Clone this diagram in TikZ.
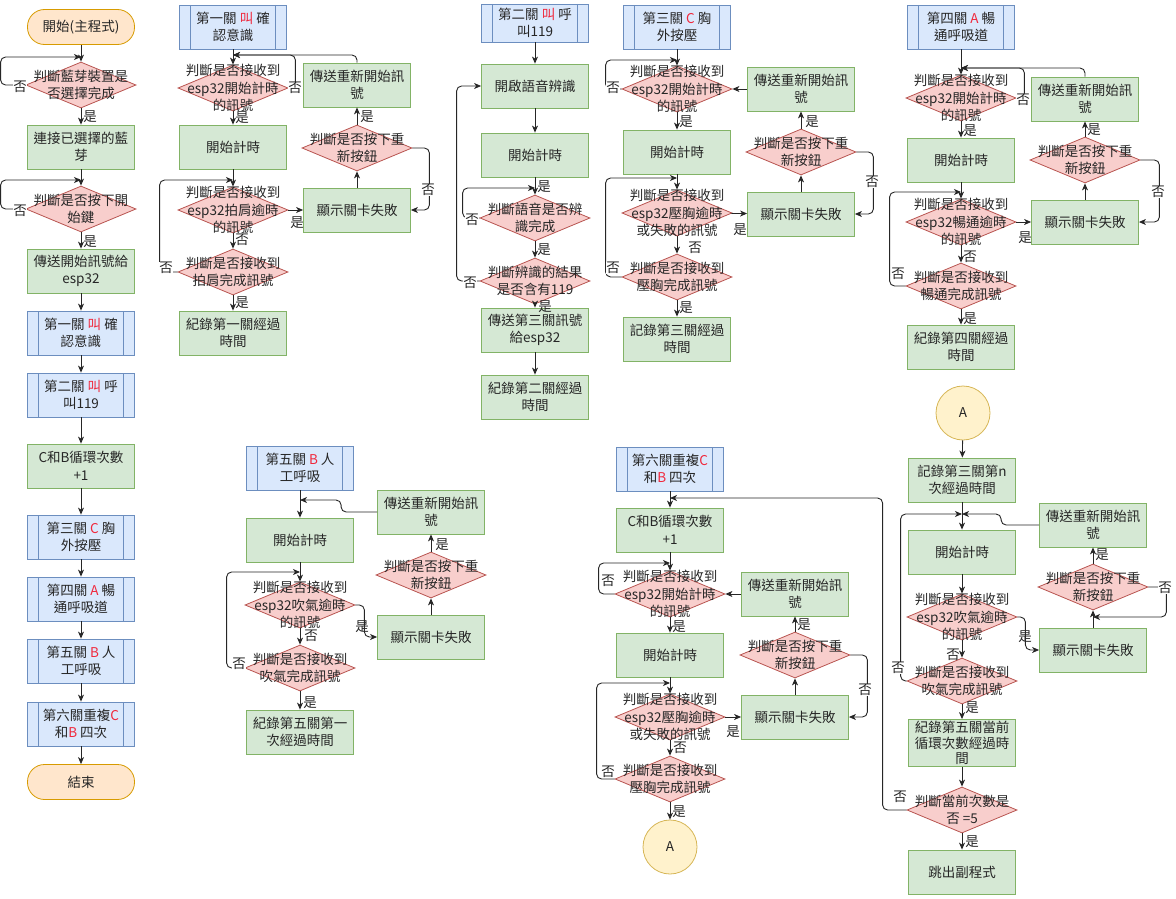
\documentclass[tikz,border=0pt]{standalone}
\usepackage{fontspec}
\setmainfont{Noto Sans CJK TC}
\usetikzlibrary{shapes.geometric, arrows.meta}

\definecolor{decfill}{HTML}{F8CECC}
\definecolor{decline}{HTML}{B85450}
\definecolor{boxfill}{HTML}{D5E8D4}
\definecolor{boxline}{HTML}{82B366}
\definecolor{subfill}{HTML}{DAE8FC}
\definecolor{subline}{HTML}{6C8EBF}
\definecolor{endfill}{HTML}{FFE6CC}
\definecolor{endline}{HTML}{D79B00}
\definecolor{confill}{HTML}{FFF2CC}
\definecolor{conline}{HTML}{D6B656}
\definecolor{hot}{HTML}{F0283C}

\newcommand{\hot}[1]{\textcolor{hot}{#1}}

\tikzset{
  txt/.style={font=\fontsize{13.5}{17.5}\selectfont, text=black!85, align=center},
  box/.style={txt, rectangle, draw=boxline, fill=boxfill, line width=0.8, minimum width=107, minimum height=44, inner sep=0},
  subproc/.style={txt, rectangle, draw=subline, fill=subfill, line width=0.8, minimum width=107, minimum height=44, inner sep=0,
    path picture={\draw[subline, line width=0.8]
      ([xshift=11]path picture bounding box.north west) -- ([xshift=11]path picture bounding box.south west)
      ([xshift=-11]path picture bounding box.north east) -- ([xshift=-11]path picture bounding box.south east);}},
  decision/.style={diamond, draw=decline, fill=decfill, line width=0.8, minimum width=110, minimum height=46, inner sep=0},
  dtext/.style={txt, inner sep=0},
  term/.style={txt, rectangle, rounded corners=17, draw=endline, fill=endfill, line width=0.8, minimum width=107, minimum height=35},
  conn/.style={txt, circle, draw=conline, fill=confill, line width=0.8, minimum size=54, inner sep=0},
  yn/.style={font=\fontsize{13.5}{15}\selectfont, text=black!85, inner sep=0.5},
  ynw/.style={yn, fill=white},
  back/.style={->, rounded corners=5},
}

\begin{document}
\begin{tikzpicture}[x=1pt, y=-1pt, >={Stealth[length=7pt, width=6pt, inset=2pt]},
    color=black!85, line width=0.9]
    \useasboundingbox (0,0) rectangle (1176,899);

    % main program
    \node[term] (start) at (81,27) {開始(主程式)};
    \node[decision, label={[dtext]center:{判斷藍芽裝置是\\否選擇完成}}] (selbt) at (81,85) {};
    \node[box] (conbt) at (81,147) {連接已選擇的藍\\芽};
    \node[decision, label={[dtext]center:{判斷是否按下開\\始鍵}}] (keybt) at (81,209) {};
    \node[box] (sendst) at (81,271) {傳送開始訊號給\\esp32};
    \node[subproc] (lv1) at (81,333) {第一關 \hot{叫} 確\\認意識};
    \node[subproc] (lv2) at (81,395) {第二關 \hot{叫} 呼\\叫119};
    \node[box] (cbadd) at (81,466) {C和B循環次數\\+1};
    \node[subproc] (lv3) at (81,537) {第三關 \hot{C} 胸\\外按壓};
    \node[subproc] (lv4) at (81,599) {第四關 \hot{A} 暢\\通呼吸道};
    \node[subproc] (lv5) at (81,661) {第五關 \hot{B} 人\\工呼吸};
    \node[subproc] (lv6) at (81,724) {第六關重複\hot{C}\\和\hot{B} 四次};
    \node[term] (finish) at (81,782) {結束};
    \coordinate (selin) at (81,57);
    \coordinate (keyin) at (81,180);

    \draw[->] (start) -- (selbt);
    \draw[back] (selbt.west) -- ++(-25,0) |- (selin);
    \draw[->] (selbt) -- (conbt);
    \draw[->] (conbt) -- (keybt);
    \draw[back] (keybt.west) -- ++(-25,0) |- (keyin);
    \draw[->] (keybt) -- (sendst);
    \draw[->] (sendst) -- (lv1);
    \draw[->] (lv1) -- (lv2);
    \draw[->] (lv2) -- (cbadd);
    \draw[->] (cbadd) -- (lv3);
    \draw[->] (lv3) -- (lv4);
    \draw[->] (lv4) -- (lv5);
    \draw[->] (lv5) -- (lv6);
    \draw[->] (lv6) -- (finish);
    \node[ynw] (m1n) at (20,87) {否};
    \node[yn] (m1y) at (90,117) {是};
    \node[ynw] (m2n) at (20,211) {否};
    \node[yn] (m2y) at (90,242) {是};

    % stage one
    \node[subproc] (a1) at (233,27) {第一關 \hot{叫} 確\\認意識};
    \node[decision, label={[dtext]center:{判斷是否接收到\\esp32開始計時\\的訊號}}] (a1q) at (233,88) {};
    \node[box] (a1t) at (233,147) {開始計時};
    \node[decision, label={[dtext]center:{判斷是否接收到\\esp32拍肩逾時\\的訊號}}] (a1o) at (233,210) {};
    \node[decision, label={[dtext]center:{判斷是否接收到\\拍肩完成訊號}}] (a1d) at (233,272) {};
    \node[box] (a1r) at (233,333) {紀錄第一關經過\\時間};
    \node[box] (a1f) at (357,210) {顯示關卡失敗};
    \node[decision, label={[dtext]center:{判斷是否按下重\\新按鈕}}] (a1b) at (357,148) {};
    \node[box] (a1s) at (357,85) {傳送重新開始訊\\號};
    \coordinate (a1in) at (233,55);
    \coordinate (a1in2) at (233,180);

    \draw[->] (a1) -- (a1q);
    \draw[back] (a1s.north) |- (a1in);
    \draw[back] (a1q.east) -- ++(7,0) |- (a1in);
    \draw[->] (a1q) -- (a1t);
    \draw[->] (a1t) -- (a1o);
    \draw[->] (a1o) -- (a1f);
    \draw[->] (a1o) -- (a1d);
    \draw[back] (a1d.west) -- ++(-18,0) |- (a1in2);
    \draw[->] (a1d) -- (a1r);
    \draw[->] (a1f) -- (a1b);
    \draw[->] (a1b) -- (a1s);
    \draw[back] (a1b.east) -- ++(17,0) |- (a1f.east);
    \node[ynw] (a1n1) at (295,88) {否};
    \node[yn] (a1y1) at (242,118) {是};
    \node[yn] (a1y2) at (297,223) {是};
    \node[yn] (a1n2) at (242,240) {否};
    \node[ynw] (a1n3) at (166,268) {否};
    \node[yn] (a1y3) at (242,303) {是};
    \node[ynw] (a1n4) at (428,190) {否};
    \node[yn] (a1y4) at (367,117) {是};

    % stage two
    \node[subproc, minimum height=38] (b2) at (535,23) {第二關 \hot{叫} 呼\\叫119};
    \node[box] (b2v) at (535,86) {開啟語音辨識};
    \node[box] (b2t) at (535,155) {開始計時};
    \node[decision, label={[dtext]center:{判斷語音是否辨\\識完成}}] (b2q) at (535,218) {};
    \node[decision, label={[dtext]center:{判斷辨識的結果\\是否含有119}}] (b2c) at (535,281) {};
    \node[box] (b2s) at (535,330) {傳送第三關訊號\\給esp32};
    \node[box] (b2r) at (535,397) {紀錄第二關經過\\時間};
    \coordinate (b2in) at (535,188);

    \draw[->] (b2) -- (b2v);
    \draw[->] (b2v) -- (b2t);
    \draw[->] (b2t) -- (b2q);
    \draw[back] (b2q.west) -- ++(-17,0) |- (b2in);
    \draw[->] (b2q) -- (b2c);
    \draw[back] (b2c.west) -- ++(-23,0) |- (b2v.west);
    \draw[->] (b2c) -- (b2s);
    \draw[->] (b2s) -- (b2r);
    \node[yn] (b2y0) at (544,187) {是};
    \node[ynw] (b2n1) at (472,220) {否};
    \node[yn] (b2y1) at (544,250) {是};
    \node[ynw] (b2n2) at (470,283) {否};
    \node[yn] (b2y2) at (545,307) {是};

    % stage three
    \node[subproc] (c3) at (677,27) {第三關 \hot{C} 胸\\外按壓};
    \node[decision, label={[dtext]center:{判斷是否接收到\\esp32開始計時\\的訊號}}] (c3q) at (677,89) {};
    \node[box] (c3s) at (801,89) {傳送重新開始訊\\號};
    \node[box] (c3t) at (677,152) {開始計時};
    \node[decision, label={[dtext]center:{判斷是否接收到\\esp32壓胸逾時\\或失敗的訊號}}] (c3o) at (677,213) {};
    \node[box] (c3f) at (801,214) {顯示關卡失敗};
    \node[decision, label={[dtext]center:{判斷是否接收到\\壓胸完成訊號}}] (c3d) at (677,277) {};
    \node[box] (c3r) at (677,339) {記錄第三關經過\\時間};
    \node[decision, label={[dtext]center:{判斷是否按下重\\新按鈕}}] (c3b) at (801,152) {};
    \coordinate (c3in) at (677,60);
    \coordinate (c3in2) at (677,178);

    \draw[->] (c3) -- (c3q);
    \draw[back] (c3q.west) -- ++(-16,0) |- (c3in);
    \draw[->] (c3s) -- (c3q);
    \draw[->] (c3q) -- (c3t);
    \draw[->] (c3t) -- (c3o);
    \draw[->] (c3o) -- (c3f);
    \draw[->] (c3o) -- (c3d);
    \draw[back] (c3d.west) -- ++(-16,0) |- (c3in2);
    \draw[->] (c3d) -- (c3r);
    \draw[->] (c3f) -- (c3b);
    \draw[->] (c3b) -- (c3s);
    \draw[back] (c3b.east) -- ++(17,0) |- (c3f.east);
    \node[ynw] (c3n1) at (613,88) {否};
    \node[yn] (c3y1) at (686,122) {是};
    \node[yn] (c3y2) at (740,230) {是};
    \node[yn] (c3n2) at (695,248) {否};
    \node[ynw] (c3n3) at (613,268) {否};
    \node[yn] (c3y3) at (686,308) {是};
    \node[ynw] (c3n4) at (872,182) {否};
    \node[yn] (c3y4) at (812,122) {是};

    % stage four
    \node[subproc] (d4) at (961,27) {第四關 \hot{A} 暢\\通呼吸道};
    \node[decision, label={[dtext]center:{判斷是否接收到\\esp32開始計時\\的訊號}}] (d4q) at (961,98) {};
    \node[box] (d4s) at (1085,99) {傳送重新開始訊\\號};
    \node[box] (d4t) at (961,160) {開始計時};
    \node[decision, label={[dtext]center:{判斷是否接收到\\esp32暢通逾時\\的訊號}}] (d4o) at (961,222) {};
    \node[box] (d4f) at (1085,222) {顯示關卡失敗};
    \node[decision, label={[dtext]center:{判斷是否接收到\\暢通完成訊號}}] (d4d) at (961,286) {};
    \node[box] (d4r) at (961,347) {紀錄第四關經過\\時間};
    \node[decision, label={[dtext]center:{判斷是否按下重\\新按鈕}}] (d4b) at (1085,160) {};
    \coordinate (d4in) at (961,68);
    \coordinate (d4in2) at (961,192);

    \draw[->] (d4) -- (d4q);
    \draw[back] (d4s.north) |- (d4in);
    \draw[back] (d4q.east) -- ++(8,0) |- (d4in);
    \draw[->] (d4q) -- (d4t);
    \draw[->] (d4t) -- (d4o);
    \draw[->] (d4o) -- (d4f);
    \draw[->] (d4o) -- (d4d);
    \draw[back] (d4d.west) -- ++(-16,0) |- (d4in2);
    \draw[->] (d4d) -- (d4r);
    \draw[->] (d4f) -- (d4b);
    \draw[->] (d4b) -- (d4s);
    \draw[back] (d4b.east) -- ++(19,0) |- (d4f.east);
    \node[ynw] (d4n1) at (1023,100) {否};
    \node[yn] (d4y1) at (970,131) {是};
    \node[yn] (d4y2) at (1025,238) {是};
    \node[yn] (d4n2) at (970,257) {否};
    \node[ynw] (d4n3) at (898,274) {否};
    \node[yn] (d4y3) at (970,319) {是};
    \node[ynw] (d4n4) at (1158,192) {否};
    \node[yn] (d4y4) at (1094,130) {是};

    % stage five
    \node[subproc] (e5) at (300,468) {第五關 \hot{B} 人\\工呼吸};
    \node[box] (e5t) at (300,540) {開始計時};
    \node[decision, label={[dtext]center:{判斷是否接收到\\esp32吹氣逾時\\的訊號}}] (e5o) at (300,605) {};
    \node[decision, label={[dtext]center:{判斷是否接收到\\吹氣完成訊號}}] (e5d) at (300,668) {};
    \node[box] (e5r) at (300,732) {紀錄第五關第一\\次經過時間};
    \node[box] (e5f) at (431,637) {顯示關卡失敗};
    \node[decision, label={[dtext]center:{判斷是否按下重\\新按鈕}}] (e5b) at (431,575) {};
    \node[box] (e5s) at (431,512) {傳送重新開始訊\\號};
    \coordinate (e5in) at (300,500);
    \coordinate (e5in2) at (300,572);

    \draw[->] (e5) -- (e5t);
    \draw[back] (e5s.west) -- ++(-36,0) |- (e5in);
    \draw[->] (e5t) -- (e5o);
    \draw[back] (e5o.east) -- ++(9,0) |- (e5f.west);
    \draw[->] (e5o) -- (e5d);
    \draw[back] (e5d.west) -- ++(-18,0) |- (e5in2);
    \draw[->] (e5d) -- (e5r);
    \draw[->] (e5f) -- (e5b);
    \draw[->] (e5b) -- (e5s);
    \node[ynw] (e5n1) at (239,664) {否};
    \node[yn] (e5y1) at (362,627) {是};
    \node[yn] (e5n2) at (311,636) {否};
    \node[yn] (e5y2) at (310,703) {是};
    \node[yn] (e5y3) at (442,545) {是};

    % stage six, first part
    \node[subproc] (f6) at (670,469) {第六關重複\hot{C}\\和\hot{B} 四次};
    \node[box] (f6c) at (670,530) {C和B循環次數\\+1};
    \node[decision, label={[dtext]center:{判斷是否接收到\\esp32開始計時\\的訊號}}] (f6q) at (670,594) {};
    \node[box] (f6s) at (795,594) {傳送重新開始訊\\號};
    \node[box] (f6t) at (670,655) {開始計時};
    \node[decision, label={[dtext]center:{判斷是否接收到\\esp32壓胸逾時\\或失敗的訊號}}] (f6o) at (670,717) {};
    \node[box] (f6f) at (795,717) {顯示關卡失敗};
    \node[decision, label={[dtext]center:{判斷是否接收到\\壓胸完成訊號}}] (f6d) at (670,779) {};
    \node[conn] (f6a) at (670,847) {A};
    \node[decision, label={[dtext]center:{判斷是否按下重\\新按鈕}}] (f6b) at (795,655) {};
    \coordinate (f6in) at (670,498);
    \coordinate (f6in2) at (670,563);
    \coordinate (f6in3) at (670,683);

    \draw[->] (f6) -- (f6c);
    \draw[->] (f6c) -- (f6q);
    \draw[back] (f6q.west) -- ++(-16,0) |- (f6in2);
    \draw[->] (f6s) -- (f6q);
    \draw[->] (f6q) -- (f6t);
    \draw[->] (f6t) -- (f6o);
    \draw[->] (f6o) -- (f6f);
    \draw[->] (f6o) -- (f6d);
    \draw[back] (f6d.west) -- ++(-18,0) |- (f6in3);
    \draw[->] (f6d) -- (f6a);
    \draw[->] (f6f) -- (f6b);
    \draw[->] (f6b) -- (f6s);
    \draw[back] (f6b.east) -- ++(17,0) |- (f6f.east);
    \node[ynw] (f6n1) at (608,581) {否};
    \node[yn] (f6y1) at (679,627) {是};
    \node[yn] (f6y2) at (733,732) {是};
    \node[yn] (f6n2) at (680,748) {否};
    \node[ynw] (f6n3) at (608,772) {否};
    \node[yn] (f6y3) at (679,812) {是};
    \node[ynw] (f6n4) at (865,690) {否};
    \node[yn] (f6y4) at (804,625) {是};

    % stage six, second part
    \node[conn] (g7a) at (963,413) {A};
    \node[box] (g7r) at (962,480) {記錄第三關第n\\次經過時間};
    \node[box] (g7t) at (962,552) {開始計時};
    \node[decision, label={[dtext]center:{判斷是否接收到\\esp32吹氣逾時\\的訊號}}] (g7o) at (962,617) {};
    \node[box] (g7f) at (1093,650) {顯示關卡失敗};
    \node[decision, label={[dtext]center:{判斷是否接收到\\吹氣完成訊號}}] (g7d) at (962,681) {};
    \node[box, font=\fontsize{13.5}{15.5}\selectfont, minimum height=47] (g7k) at (962,743) {紀錄第五關當前\\循環次數經過時\\間};
    \node[decision, label={[dtext]center:{判斷當前次數是\\否 =5}}] (g7n) at (962,810) {};
    \node[box] (g7x) at (962,872) {跳出副程式};
    \node[box] (g7s) at (1093,525) {傳送重新開始訊\\號};
    \node[decision, label={[dtext]center:{判斷是否按下重\\新按鈕}}] (g7b) at (1093,587) {};
    \coordinate (g7in) at (962,514);
    \coordinate (g7j) at (1093,617);

    \draw[->] (g7a) -- (g7r);
    \draw[->] (g7r) -- (g7t);
    \draw[back] (g7s.west) -- ++(-38,0) |- (g7in);
    \draw[back] (g7d.west) -- ++(-6,0) |- (g7in);
    \draw[->] (g7t) -- (g7o);
    \draw[back] (g7o.east) -- ++(8,0) |- (g7f.west);
    \draw[->] (g7o) -- (g7d);
    \draw[->] (g7d) -- (g7k);
    \draw[->] (g7k) -- (g7n);
    \draw[->] (g7n) -- (g7x);
    \draw[back] (g7n.west) -- ++(-24,0) |- (f6in);
    \draw[->] (g7f) -- (g7b);
    \draw[->] (g7b) -- (g7s);
    \draw[back] (g7b.east) -- ++(18,0) |- (g7j);
    \node[yn] (g7y1) at (1025,637) {是};
    \node[yn] (g7n1) at (953,655) {否};
    \node[ynw] (g7n2) at (898,668) {否};
    \node[yn] (g7y2) at (972,708) {是};
    \node[ynw] (g7n3) at (900,797) {否};
    \node[yn] (g7y3) at (972,842) {是};
    \node[ynw] (g7n4) at (1165,588) {否};
    \node[yn] (g7y4) at (1102,555) {是};
\end{tikzpicture}
\end{document}
